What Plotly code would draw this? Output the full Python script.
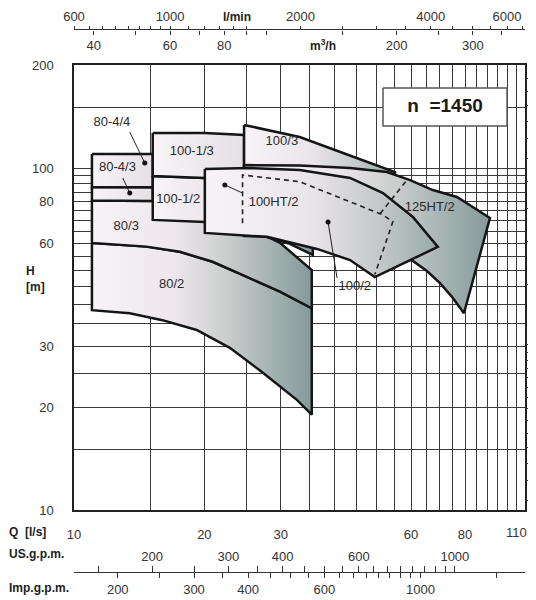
import numpy as np
import plotly.graph_objects as go

FONT = "Liberation Sans, Arial, sans-serif"
GRID = "#3a3a3a"

# ---------------- data (Q in l/s, H in m) ----------------
q_80_2 = [11.0, 14.7, 17.55, 20.9, 25.0, 29.9, 35.4, 35.4, 32.7, 27.3, 22.9, 19.2, 16.0, 13.45, 11.0]
h_80_2 = [60.4, 58.9, 56.9, 53.2, 48.1, 43.5, 38.9, 19.0, 21.0, 25.2, 29.8, 33.6, 35.9, 37.6, 38.4]

q_80_3 = [11.0, 15.2, 20.05, 25.5, 29.9, 35.4, 35.4, 29.9, 25.0, 20.9, 17.55, 14.7, 11.0]
h_80_3 = [80.3, 80.1, 75.4, 66.8, 60.4, 50.3, 38.9, 43.5, 48.1, 53.2, 56.9, 58.9, 60.4]

q_80_4_3 = [11.0, 15.2, 15.2, 11.0]
h_80_4_3 = [88.0, 87.8, 80.1, 80.3]

q_80_4_4 = [11.0, 15.2, 15.2, 11.0]
h_80_4_4 = [109.9, 109.9, 87.8, 88.0]

q_100_1_2 = [15.2, 20.05, 26.9, 35.6, 35.6, 31.5, 25.5, 20.05, 15.2]
h_100_1_2 = [94.8, 93.5, 89.2, 83.4, 55.7, 60.0, 65.0, 69.5, 70.5]

q_100_1_3 = [15.2, 20.05, 24.7, 24.7, 20.05, 15.2]
h_100_1_3 = [126.6, 126.6, 124.9, 92.2, 93.5, 94.8]

q_100_3 = [24.7, 33.2, 41.8, 55.1, 55.1, 24.7]
h_100_3 = [133.6, 123.2, 110.6, 97.3, 80.0, 85.0]

q_125ht_2 = [24.7, 33.2, 43.4, 52.8, 59.7, 67.4, 76.6, 91.3, 79.5, 74.6, 70.0, 65.3, 60.6, 53.6, 43.4, 33.2, 24.7]
h_125ht_2 = [102.0, 101.7, 100.0, 97.3, 92.2, 86.2, 82.3, 71.4, 37.6, 42.0, 46.1, 50.0, 53.5, 56.8, 60.4, 62.5, 63.3]

q_100_2 = [20.05, 25.5, 33.2, 43.4, 51.7, 60.6, 69.2, 49.5, 43.4, 36.4, 27.9, 20.05]
h_100_2 = [99.3, 100.0, 98.7, 93.5, 84.5, 71.9, 58.8, 48.0, 53.8, 58.0, 62.9, 64.6]

q_100ht_2 = [24.5, 24.5, 33.2, 43.4, 51.7, 54.5, 49.5]
h_100ht_2 = [68.9, 95.4, 91.2, 79.7, 72.9, 69.7, 48.8]
q_ht_link = [50.9, 59.0]
h_ht_link = [73.5, 92.9]

# region labels
lab_text = ["80-4/4", "80-4/3", "100-1/3", "100-1/2", "80/3", "80/2", "100/3", "100HT/2", "125HT/2", "100/2"]
lab_q = [12.23, 12.6, 18.7, 17.4, 13.2, 16.8, 30.2, 28.9, 66.3, 44.5]
lab_h = [135.4, 100.0, 111.4, 80.6, 67.3, 45.5, 119.1, 79.0, 76.4, 44.9]

# leader lines (text end -> dot end)
lead_q = [[13.45, 14.57], [12.96, 13.45], [24.5, 22.3], [40.5, 38.6]]
lead_h = [[127.4, 103.4], [93.5, 84.5], [84.5, 89.2], [47.7, 69.5]]

# speed box
box_q = [51.7, 100.0, 100.0, 51.7]
box_h = [171.3, 171.3, 132.7, 132.7]
box_text = "<b>n  =1450</b>"

# axes
q_range = [10, 110]
h_range = [10, 200]
q_ticks = [10, 20, 30, 60, 80, 110]
q_tick_text = ["10", "20", "30", "60", "80", ""]   # "110" is placed inside the frame by an annotation
q_minor = [15, 25, 35, 40, 45, 50, 55, 65, 70, 75, 85, 90, 95, 100, 105]
h_ticks = [10, 20, 30, 60, 80, 100, 200]
h_minor = [15, 25, 35, 40, 45, 50, 55, 65, 70, 75, 85, 90, 95, 150]
ft_per_m = 3.2808
ft_ticks = [35, 40, 45, 50, 55, 60, 65, 70, 75, 80, 85, 90, 95, 100,
            150, 200, 250, 300, 350, 400, 450, 500, 550, 600]

lmin_per_ls = 60.0
lmin_ticks = [600, 650, 700, 750, 800, 850, 900, 950, 1000, 1100, 1200, 1300, 1400,
              1500, 2000, 2500, 3000, 3500, 4000, 4500, 5000, 5500, 6000, 6500]
lmin_labels = [600, 1000, 2000, 4000, 6000]
m3h_per_ls = 3.6
m3h_ticks = [40, 50, 60, 70, 80, 90, 100, 150, 200, 250, 300, 350]
m3h_labels = [40, 60, 80, 200, 300]
us_per_ls = 13.2      # row printed as "US.g.p.m."
us_ticks = [150, 200, 250, 300, 350, 400, 450, 500, 550, 600, 650, 700, 750, 800, 850, 900, 950, 1000]
us_labels = [200, 300, 400, 600, 1000]
imp_per_ls = 15.85    # row printed as "Imp.g.p.m."
imp_ticks = [200, 250, 300, 350, 400, 450, 500, 550, 600, 650, 700, 750, 800, 850, 900, 950, 1000, 1500]
imp_labels = [200, 300, 400, 600, 1000]

# ---------------- styles ----------------
LIGHT = "#f7f3f6"
CS_BIG = [[0, LIGHT], [0.38, "#ede6eb"], [0.62, "#c9cdcc"], [1, "#84999a"]]
CS_MID = [[0, LIGHT], [0.45, "#ebe5ea"], [0.75, "#c3c9c8"], [1, "#98aaa8"]]
CS_LIGHT = [[0, LIGHT], [1, "#e6e0e5"]]

fig = go.Figure()


def region(q, h, cs):
    fig.add_trace(go.Scatter(
        x=q + [q[0]], y=h + [h[0]], mode="lines", fill="toself",
        fillgradient=dict(type="horizontal", colorscale=cs),
        line=dict(color="#151515", width=2.5), hoverinfo="skip", showlegend=False))


region(q_80_2, h_80_2, CS_BIG)
region(q_80_3, h_80_3, CS_BIG)
region(q_80_4_3, h_80_4_3, CS_LIGHT)
region(q_80_4_4, h_80_4_4, CS_LIGHT)
region(q_100_1_2, h_100_1_2, CS_BIG)
region(q_100_1_3, h_100_1_3, CS_LIGHT)
region(q_100_3, h_100_3, CS_MID)
region(q_125ht_2, h_125ht_2, CS_BIG)
region(q_100_2, h_100_2, CS_MID)

for qq, hh in [(q_100ht_2, h_100ht_2), (q_ht_link, h_ht_link)]:
    fig.add_trace(go.Scatter(x=qq, y=hh, mode="lines",
                             line=dict(color="#222", width=1.6, dash="5px,4px"),
                             hoverinfo="skip", showlegend=False))

for qq, hh in zip(lead_q, lead_h):
    fig.add_trace(go.Scatter(x=qq, y=hh, mode="lines", line=dict(color="#222", width=1),
                             hoverinfo="skip", showlegend=False))
    fig.add_trace(go.Scatter(x=[qq[1]], y=[hh[1]], mode="markers",
                             marker=dict(color="#111", size=5), hoverinfo="skip", showlegend=False))

fig.add_trace(go.Scatter(x=lab_q, y=lab_h, mode="text", text=lab_text,
                         textfont=dict(family=FONT, size=13, color="#2a2a2a"),
                         hoverinfo="skip", showlegend=False))

fig.add_trace(go.Scatter(x=box_q + [box_q[0]], y=box_h + [box_h[0]], mode="lines", fill="toself",
                         fillcolor="white", line=dict(color="#555", width=1.5),
                         hoverinfo="skip", showlegend=False))
fig.add_trace(go.Scatter(x=[float(np.sqrt(box_q[0] * box_q[1]))], y=[float(np.sqrt(box_h[0] * box_h[2]))],
                         mode="text", text=[box_text],
                         textfont=dict(family=FONT, size=19, color="#1a1a1a"),
                         hoverinfo="skip", showlegend=False))

# dummy traces so the extra axes are drawn
for xa, ya in [("x2", "y"), ("x3", "y"), ("x4", "y"), ("x5", "y"), ("x", "y2")]:
    fig.add_trace(go.Scatter(x=[None], y=[None], xaxis=xa, yaxis=ya, showlegend=False, hoverinfo="skip"))

lg = np.log10
TOP_POS = 0.9664
BOT_POS = 0.031
Y_DOM = [0.1379, 0.9051]


def sec_axis(ticks, labels, factor, side, pos, ticklen):
    return dict(
        type="log", range=[lg(q_range[0] * factor), lg(q_range[1] * factor)],
        overlaying="x", anchor="free", position=pos, side=side,
        tickmode="array", tickvals=ticks,
        ticktext=[str(t) if t in labels else "" for t in ticks],
        ticks="outside", ticklen=ticklen, tickwidth=1, tickcolor="#333",
        showline=True, linecolor="#333", linewidth=1.3, showgrid=False, zeroline=False,
        tickfont=dict(family=FONT, size=13, color="#333"), automargin=False,
    )


# the page body adds an 8 px offset; the figure is sized to end at the window edge
fig.update_layout(
    width=528, height=592, margin=dict(l=66, r=11, t=2, b=10),
    paper_bgcolor="white", plot_bgcolor="white", showlegend=False,
    font=dict(family=FONT, size=13, color="#333"),
    xaxis=dict(type="log", range=[lg(q_range[0]), lg(q_range[1])], tickmode="array",
               tickvals=q_ticks, ticktext=q_tick_text,
               showgrid=True, gridcolor=GRID, gridwidth=1,
               minor=dict(tickmode="array", tickvals=q_minor, showgrid=True, gridcolor=GRID, gridwidth=1, ticks=""),
               showline=True, linecolor="#222", linewidth=1.5, mirror=True, ticks="",
               ticklabelstandoff=12, zeroline=False, anchor="y", automargin=False,
               tickfont=dict(family=FONT, size=13, color="#333")),
    yaxis=dict(type="log", range=[lg(h_range[0]), lg(h_range[1])], domain=Y_DOM, tickmode="array",
               tickvals=h_ticks, ticktext=[str(t) for t in h_ticks],
               showgrid=True, gridcolor=GRID, gridwidth=1,
               minor=dict(tickmode="array", tickvals=h_minor, showgrid=True, gridcolor=GRID, gridwidth=1, ticks=""),
               showline=True, linecolor="#222", linewidth=1.5, mirror=True, ticks="",
               ticklabelstandoff=16, zeroline=False, automargin=False,
               tickfont=dict(family=FONT, size=13, color="#333")),
    yaxis2=dict(type="log", range=[lg(h_range[0] * ft_per_m), lg(h_range[1] * ft_per_m)],
                overlaying="y", side="right", anchor="x", tickmode="array", tickvals=ft_ticks,
                showticklabels=False, ticks="outside", ticklen=5, tickcolor="#333",
                showgrid=False, showline=False, zeroline=False, automargin=False),
    xaxis2=sec_axis(lmin_ticks, lmin_labels, lmin_per_ls, "top", TOP_POS, 3),
    xaxis3=sec_axis(m3h_ticks, m3h_labels, m3h_per_ls, "bottom", TOP_POS, 4),
    xaxis4=sec_axis(us_ticks, us_labels, us_per_ls, "top", BOT_POS, 6),
    xaxis5=sec_axis(imp_ticks, imp_labels, imp_per_ls, "bottom", BOT_POS, 5),
)


# screen-pixel helpers -> paper fractions (paper spans screen x 74..525, y 10..590)
def px(xp):
    return (xp - 74) / 451.0


def py(yp):
    return (590 - yp) / 580.0


ann = [
    ("<b>l/min</b>", px(237), py(17), "center", 12),
    ("<b>m<sup>3</sup>/h</b>", px(323), py(45), "center", 12),
    ("<b>Q  [l/s]</b>", px(7), py(532), "left", 12),
    ("<b>US.g.p.m.</b>", px(7), py(554), "left", 12),
    ("<b>Imp.g.p.m.</b>", px(7), py(588), "left", 12),
    ("<b>H<br>[m]</b>", px(24), py(279), "left", 12),
    ("110", px(516), py(532), "center", 13),
]
for t, x, y, xa, fs in ann:
    fig.add_annotation(text=t, x=x, y=y, xref="paper", yref="paper", xanchor=xa, yanchor="middle",
                       showarrow=False, align="left",
                       font=dict(family=FONT, size=fs, color="#222" if fs == 12 else "#333"))

fig.write_html("out.html")
